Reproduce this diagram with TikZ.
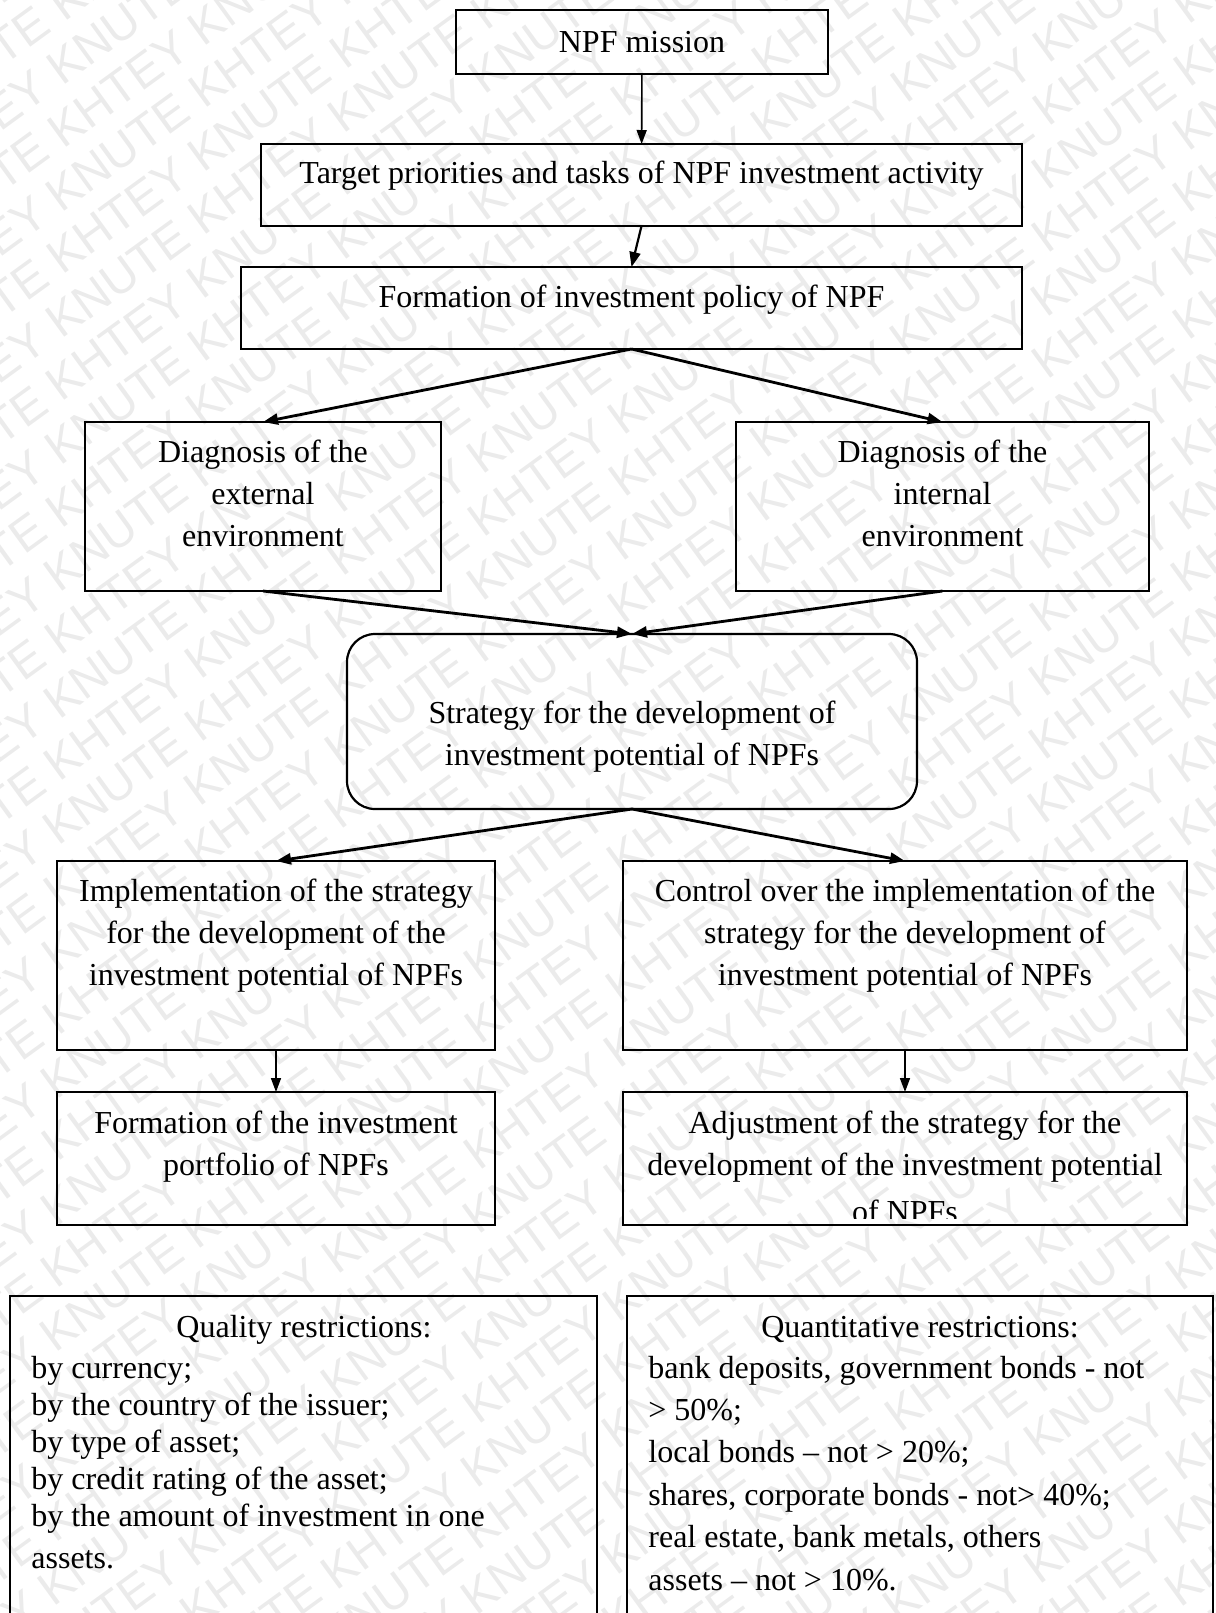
\documentclass[tikz,border=0pt]{standalone}
\usepackage{fontspec}
\setmainfont{Liberation Serif}
\newfontfamily\wmfont{Liberation Sans}
\usetikzlibrary{arrows.meta}

\begin{document}
\begin{tikzpicture}[x=0.5pt,y=-0.5pt,
  box/.style={draw,line width=1.1pt,inner sep=0pt,outer sep=0pt},
  rbox/.style={box,rounded corners=14pt},
  txt/.style={font=\fontsize{16}{21}\selectfont,align=center,anchor=base,inner sep=0pt},
  ltxt/.style={txt,align=left,anchor=base west},
  wm/.style={font=\wmfont\fontsize{24}{24}\selectfont,text=black!8,inner sep=0pt,rotate=36},
  arrthin/.style={-{Triangle[length=7pt,width=5pt]},line width=0.8pt},
  arrthick/.style={-{Triangle[length=7.5pt,width=5.5pt]},line width=1.4pt}]

\useasboundingbox (0,0) rectangle (1216,1613);

% faint diagonal lettering across the sheet
\begin{scope}
  \clip (0,0) rectangle (1216,1613);
  \foreach \k in {-21,...,21} {
    \pgfmathsetmacro\wph{mod(137*\k+4188,349)-175}
    \pgfmathsetmacro\wx{608+30.0*\k+0.809*\wph}
    \pgfmathsetmacro\wy{806+41.3*\k-0.588*\wph}
    \node[wm] (wm\k) at (\wx,\wy)
      {KHTEY KNUTE KHTEY KNUTE KHTEY KNUTE KHTEY KNUTE KHTEY KNUTE KHTEY KNUTE KHTEY KNUTE KHTEY KNUTE};
  }
\end{scope}

% boxes
\node[box,minimum width=186pt,minimum height=32pt]   (mission) at (642,42) {};
\node[box,minimum width=380.5pt,minimum height=41pt] (target)  at (641.5,185) {};
\node[box,minimum width=390.5pt,minimum height=41pt] (fpol)    at (631.5,308) {};
\node[box,minimum width=178pt,minimum height=84.5pt] (dext)    at (263,506.5) {};
\node[box,minimum width=206.5pt,minimum height=84.5pt] (dint)  at (942.5,506.5) {};
\node[rbox,minimum width=285pt,minimum height=87.5pt] (strat)  at (632,721.5) {};
\node[box,minimum width=219pt,minimum height=94.5pt] (impl)    at (276,955.5) {};
\node[box,minimum width=282pt,minimum height=94.5pt] (ctrl)    at (905,955.5) {};
\node[box,minimum width=219pt,minimum height=66.5pt] (fport)   at (276,1158.5) {};
\node[box,minimum width=282pt,minimum height=66.5pt] (adj)     at (905,1158.5) {};
\node[box,minimum width=293.5pt,minimum height=172pt] (qual)   at (303.5,1468) {};
\node[box,minimum width=293pt,minimum height=172pt] (quant)    at (920,1468) {};

% box texts (each placed by the baseline of its last line)
\node[txt] (tmission) at (642,52) {NPF mission};
\node[txt] (ttarget) at (641.5,183) {Target priorities and tasks of NPF investment activity};
\node[txt] (tfpol) at (631.5,307) {Formation of investment policy of NPF};
\node[txt] (tdext) at (263,546) {Diagnosis of the\\external\\environment};
\node[txt] (tdint) at (942.5,546) {Diagnosis of the\\internal\\environment};
\node[txt] (tstrat) at (632,765) {Strategy for the development of\\investment potential of NPFs};
\node[txt] (timpl) at (276,985) {Implementation of the strategy\\for the development of the\\investment potential of NPFs};
\node[txt] (tctrl) at (905,985) {Control over the implementation of the\\strategy for the development of\\investment potential of NPFs};
\node[txt] (tfport) at (276,1175) {Formation of the investment\\portfolio of NPFs};
\begin{scope}
  \clip (623,1092) rectangle (1187,1218);
  \node[txt] (tadj) at (905,1222) {Adjustment of the strategy for the\\development of the investment potential\\[2.5pt]of NPFs};
\end{scope}

% restriction lists
\node[txt] (tqual) at (304,1337) {Quality restrictions:};
\node[ltxt,font=\fontsize{16}{18.5}\selectfont] (lqual) at (31,1568)
  {by currency;\\by the country of the issuer;\\by type of asset;\\by credit rating of the asset;\\by the amount of investment in one\\[2.5pt]assets.};
\node[txt] (tquant) at (920,1337) {Quantitative restrictions:};
\node[ltxt,font=\fontsize{16}{21.2}\selectfont] (lquant) at (648,1590)
  {bank deposits, government bonds - not\\> 50\%;\\local bonds -- not > 20\%;\\shares, corporate bonds - not> 40\%;\\real estate, bank metals, others\\assets -- not > 10\%.};

% connectors
\draw[arrthin] (mission) -- (target);
\draw[arrthick,line width=1.1pt] (target.south) -- (fpol.north);
\draw[arrthick] (fpol.south) -- (dext.north);
\draw[arrthick] (fpol.south) -- (dint.north);
\draw[arrthick] (dext.south) -- (strat.north);
\draw[arrthick] (dint.south) -- (strat.north);
\draw[arrthick] (strat.south) -- (impl.north);
\draw[arrthick] (strat.south) -- (ctrl.north);
\draw[arrthin] (impl) -- (fport);
\draw[arrthin] (ctrl) -- (adj);
\end{tikzpicture}
\end{document}
